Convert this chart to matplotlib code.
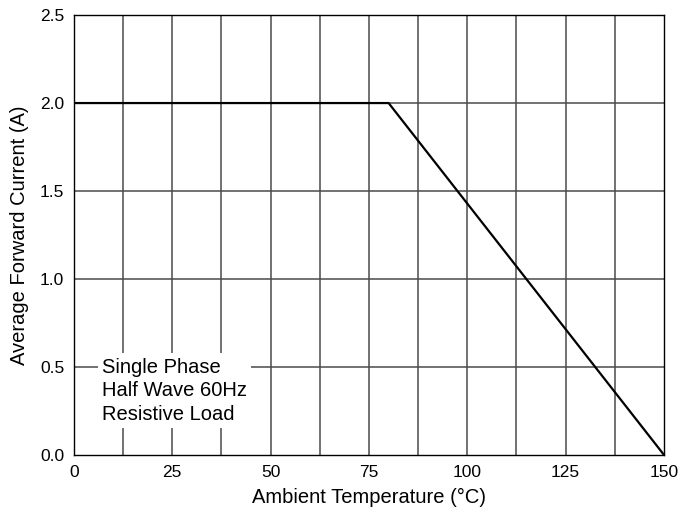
import matplotlib
matplotlib.use('Agg')
import matplotlib.pyplot as plt
import numpy as np

plt.rcParams['font.family'] = ['Liberation Sans', 'DejaVu Sans']

temp = [0, 80, 150]
current = [2.0, 2.0, 0.0]
xticks = [0, 25, 50, 75, 100, 125, 150]
yticks = [0.0, 0.5, 1.0, 1.5, 2.0, 2.5]

fig = plt.figure(figsize=(6.83, 5.21), dpi=100)
ax = fig.add_axes([0.1083, 0.127, 0.8638, 0.844])

# grid every 12.5 deg / 0.5 A
for x in np.arange(12.5, 150, 12.5):
    ax.axvline(x, color='#4a4a4a', lw=1.1, zorder=1)
for y in yticks[1:-1]:
    ax.axhline(y, color='#4a4a4a', lw=1.1, zorder=1)

ax.plot(temp, current, color='black', lw=1.6, zorder=3)

ax.text(7.1, 0.365, 'Single Phase\nHalf Wave 60Hz\nResistive Load', fontsize=14.5,
        va='center', ha='left', linespacing=1.3, zorder=4,
        bbox=dict(facecolor='white', edgecolor='none', pad=3))

ax.set_xlim(0, 150)
ax.set_ylim(0, 2.5)
ax.set_xticks(xticks)
ax.set_yticks(yticks)
ax.set_yticklabels(['%.1f' % v for v in yticks])
ax.tick_params(length=0, labelsize=12.5, pad=7)
for s in ax.spines.values():
    s.set_linewidth(1.0)
ax.set_xlabel('Ambient Temperature (°C)', fontsize=14.5, labelpad=6)
ax.set_ylabel('Average Forward Current (A)', fontsize=14.5, labelpad=8)

plt.savefig('out.png', dpi=100)
